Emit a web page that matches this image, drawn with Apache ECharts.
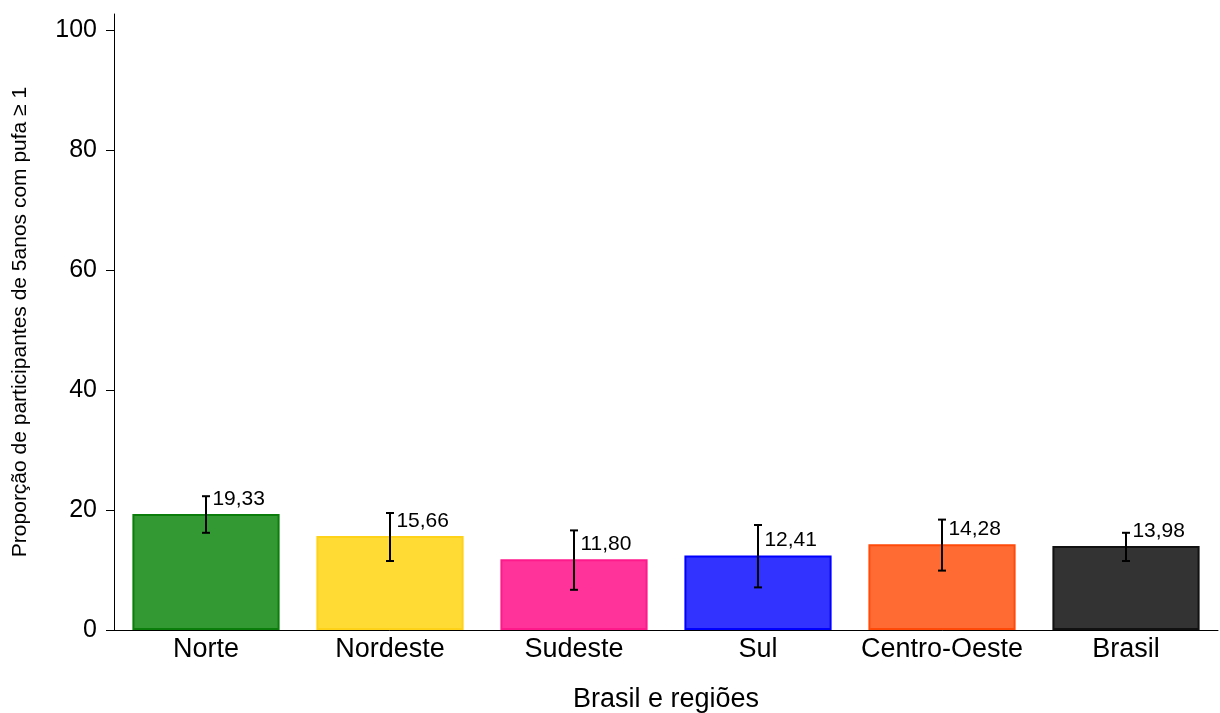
<!DOCTYPE html>
<html>
<head>
<meta charset="utf-8">
<script src="https://cdn.jsdelivr.net/npm/echarts@6/dist/echarts.min.js"></script>
<style>html,body{margin:0;padding:0;background:#fff}#c{width:1220px;height:713px}</style>
</head>
<body>
<div id="c"></div>
<script>
const categories = ['Norte', 'Nordeste', 'Sudeste', 'Sul', 'Centro-Oeste', 'Brasil'];
const values = [19.33, 15.66, 11.80, 12.41, 14.28, 13.98];
const lowerCI = [16.2, 11.5, 6.7, 7.1, 9.9, 11.5];
const upperCI = [22.3, 19.5, 16.6, 17.5, 18.4, 16.2];
const valueLabels = ['19,33', '15,66', '11,80', '12,41', '14,28', '13,98'];
const fillColors = ['#339933', '#FFDB33', '#FF3399', '#3333FF', '#FF6B33', '#333333'];
const borderColors = ['#0a7d0a', '#FFD21A', '#FF1A8C', '#0000FF', '#FF4A0A', '#111111'];
const yTicks = [0, 20, 40, 60, 80, 100];

const FONT = '"Liberation Sans", Arial, Helvetica, sans-serif';
const chart = echarts.init(document.getElementById('c'), null, {renderer: 'canvas'});

const barData = values.map((v, i) => ({
  value: v,
  itemStyle: {color: fillColors[i], borderColor: borderColors[i], borderWidth: 2},
  label: {formatter: valueLabels[i]}
}));
const errData = categories.map((c, i) => [i, lowerCI[i], upperCI[i]]);

chart.setOption({
  animation: false,
  backgroundColor: '#ffffff',
  grid: {left: 114, right: 2, top: 14, bottom: 83, containLabel: false, outerBoundsMode: 'none'},
  xAxis: {
    type: 'category',
    data: categories,
    axisLine: {show: true, lineStyle: {color: '#000', width: 1}},
    axisTick: {show: false},
    axisLabel: {color: '#000', fontSize: 27, fontFamily: FONT, margin: 6, interval: 0},
    name: 'Brasil e regiões',
    nameLocation: 'middle',
    nameGap: 56,
    nameTextStyle: {color: '#000', fontSize: 27, fontFamily: FONT}
  },
  yAxis: {
    type: 'value',
    min: 0,
    max: 102.67,
    interval: 20,
    splitLine: {show: false},
    axisLine: {show: true, lineStyle: {color: '#000', width: 1}},
    axisTick: {show: true, length: 8, lineStyle: {color: '#000'}, customValues: yTicks},
    axisLabel: {color: '#000', fontSize: 25, fontFamily: FONT, margin: 17, customValues: yTicks},
    name: 'Proporção de participantes de 5anos com pufa ≥ 1',
    nameLocation: 'middle',
    nameGap: 83,
    nameRotate: 90,
    nameTextStyle: {color: '#000', fontSize: 21, fontFamily: FONT}
  },
  series: [
    {
      type: 'bar',
      data: barData,
      barWidth: '80%',
      label: {
        show: true,
        position: [80, -15],
        align: 'left',
        verticalAlign: 'middle',
        color: '#000',
        fontSize: 21,
        fontFamily: FONT
      }
    },
    {
      type: 'custom',
      data: errData,
      z: 10,
      renderItem: function (params, api) {
        const x = api.value(0);
        const lo = api.coord([x, api.value(1)]);
        const hi = api.coord([x, api.value(2)]);
        const hw = 4;
        const style = {stroke: '#000', lineWidth: 2, fill: null};
        return {
          type: 'group',
          children: [
            {type: 'line', shape: {x1: hi[0], y1: hi[1], x2: lo[0], y2: lo[1]}, style: style},
            {type: 'line', shape: {x1: hi[0] - hw, y1: hi[1], x2: hi[0] + hw, y2: hi[1]}, style: style},
            {type: 'line', shape: {x1: lo[0] - hw, y1: lo[1], x2: lo[0] + hw, y2: lo[1]}, style: style}
          ]
        };
      }
    }
  ]
});
</script>
</body>
</html>
